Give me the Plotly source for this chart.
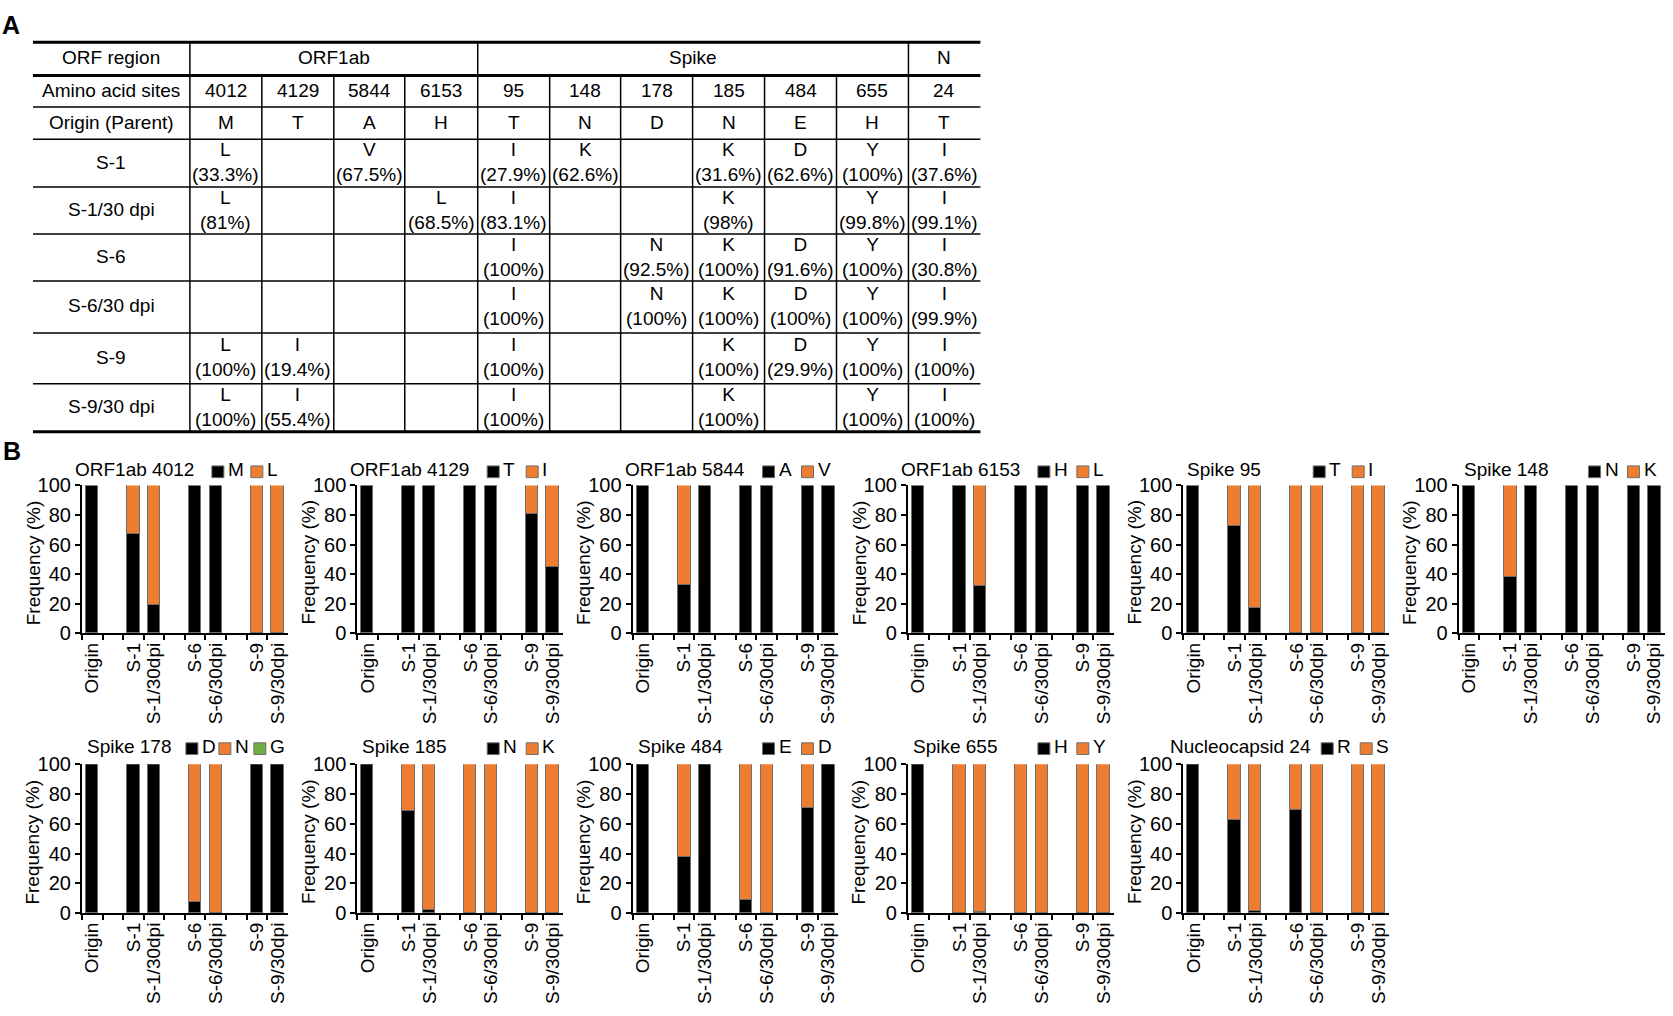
import plotly.graph_objects as go

W, H = 1673, 1016
FONT = "Liberation Sans, Arial, Helvetica, sans-serif"

# ---------------- Panel A: table data ----------------
orf_groups = ["ORF1ab", "Spike", "N"]
orf_group_span = [4, 6, 1]
aa_sites = ["4012", "4129", "5844", "6153", "95", "148", "178", "185", "484", "655", "24"]
origin_aa = ["M", "T", "A", "H", "T", "N", "D", "N", "E", "H", "T"]
sample_rows = ["S-1", "S-1/30 dpi", "S-6", "S-6/30 dpi", "S-9", "S-9/30 dpi"]
mut_aa = [
    ["L", "", "V", "", "I", "K", "", "K", "D", "Y", "I"],
    ["L", "", "", "L", "I", "", "", "K", "", "Y", "I"],
    ["", "", "", "", "I", "", "N", "K", "D", "Y", "I"],
    ["", "", "", "", "I", "", "N", "K", "D", "Y", "I"],
    ["L", "I", "", "", "I", "", "", "K", "D", "Y", "I"],
    ["L", "I", "", "", "I", "", "", "K", "", "Y", "I"],
]
mut_pct = [
    [33.3, None, 67.5, None, 27.9, 62.6, None, 31.6, 62.6, 100, 37.6],
    [81, None, None, 68.5, 83.1, None, None, 98, None, 99.8, 99.1],
    [None, None, None, None, 100, None, 92.5, 100, 91.6, 100, 30.8],
    [None, None, None, None, 100, None, 100, 100, 100, 100, 99.9],
    [100, 19.4, None, None, 100, None, None, 100, 29.9, 100, 100],
    [100, 55.4, None, None, 100, None, None, 100, None, 100, 100],
]

# ---------------- Panel B: bar chart data ----------------
bar_samples = ["Origin", "S-1", "S-1/30dpi", "S-6", "S-6/30dpi", "S-9", "S-9/30dpi"]
axis_slots = ["Origin", " ", "S-1", "S-1/30dpi", "  ", "S-6", "S-6/30dpi", "   ", "S-9", "S-9/30dpi"]
panel_titles = ["ORF1ab 4012", "ORF1ab 4129", "ORF1ab 5844", "ORF1ab 6153", "Spike 95", "Spike 148",
                "Spike 178", "Spike 185", "Spike 484", "Spike 655", "Nucleocapsid 24"]
panel_residues = [["M", "L"], ["T", "I"], ["A", "V"], ["H", "L"], ["T", "I"], ["N", "K"],
                  ["D", "N", "G"], ["N", "K"], ["E", "D"], ["H", "Y"], ["R", "S"]]
panel_values = [
    [[100, 66.7, 19, 100, 100, 0, 0], [0, 33.3, 81, 0, 0, 100, 100]],
    [[100, 100, 100, 100, 100, 80.6, 44.6], [0, 0, 0, 0, 0, 19.4, 55.4]],
    [[100, 32.5, 100, 100, 100, 100, 100], [0, 67.5, 0, 0, 0, 0, 0]],
    [[100, 100, 31.5, 100, 100, 100, 100], [0, 0, 68.5, 0, 0, 0, 0]],
    [[100, 72.1, 16.9, 0, 0, 0, 0], [0, 27.9, 83.1, 100, 100, 100, 100]],
    [[100, 37.4, 100, 100, 100, 100, 100], [0, 62.6, 0, 0, 0, 0, 0]],
    [[100, 100, 100, 7.5, 0, 100, 100], [0, 0, 0, 92.5, 100, 0, 0], [0, 0, 0, 0, 0, 0, 0]],
    [[100, 68.4, 2, 0, 0, 0, 0], [0, 31.6, 98, 100, 100, 100, 100]],
    [[100, 37.4, 100, 8.4, 0, 70.1, 100], [0, 62.6, 0, 91.6, 100, 29.9, 0]],
    [[100, 0, 0.2, 0, 0, 0, 0], [0, 100, 99.8, 100, 100, 100, 100]],
    [[100, 62.4, 0.9, 69.2, 0.1, 0, 0], [0, 37.6, 99.1, 30.8, 99.9, 100, 100]],
]
y_ticks = [0, 20, 40, 60, 80, 100]
residue_colors = ["#000000", "#ED7D31", "#70AD47"]

# ---------------- layout helpers ----------------
def fx(x):
    return x / W

def fy(y):
    return 1 - y / H

shapes = []
annotations = []

def text(x, y, s, size=19, bold=False, xanchor="center", angle=0):
    annotations.append(dict(
        x=fx(x), y=fy(y), xref="paper", yref="paper", text=("<b>%s</b>" % s) if bold else s,
        showarrow=False, xanchor=xanchor, yanchor="middle", textangle=angle,
        font=dict(family=FONT, size=size, color="black"), borderpad=0))

def hline(y, x0, x1, w):
    shapes.append(dict(type="line", xref="paper", yref="paper", x0=fx(x0), x1=fx(x1),
                       y0=fy(y), y1=fy(y), line=dict(color="black", width=w)))

def vline(x, y0, y1, w):
    shapes.append(dict(type="line", xref="paper", yref="paper", x0=fx(x), x1=fx(x),
                       y0=fy(y0), y1=fy(y1), line=dict(color="black", width=w)))

# ---------------- Panel A: table ----------------
tbl_left, tbl_right = 32, 980
col_edges = [32, 189, 261, 333, 404, 477, 549, 620, 692, 764, 836, 908, 980]
row_edges = [32, 66, 98, 131, 180, 228, 276, 329, 381, 430]
dy = -1  # visual centring correction for text

for i, y in enumerate(row_edges):
    thick = i in (0, 1, len(row_edges) - 1)
    hline(y, tbl_left, tbl_right, 3 if thick else 1.5)

group_bounds = [1]
for span in orf_group_span:
    group_bounds.append(group_bounds[-1] + span)
for ci in range(1, len(col_edges) - 1):
    top = row_edges[0] if ci in group_bounds else row_edges[1]
    vline(col_edges[ci], top, row_edges[-1], 1.5)

label_x = (col_edges[0] + col_edges[1]) / 2
text(label_x, (row_edges[0] + row_edges[1]) / 2 + dy, "ORF region")
text(label_x, (row_edges[1] + row_edges[2]) / 2 + dy, "Amino acid sites")
text(label_x, (row_edges[2] + row_edges[3]) / 2 + dy, "Origin (Parent)")

for gi, g in enumerate(orf_groups):
    x0 = col_edges[group_bounds[gi]]
    x1 = col_edges[group_bounds[gi + 1]]
    text((x0 + x1) / 2, (row_edges[0] + row_edges[1]) / 2 + dy, g)

for ci in range(len(aa_sites)):
    cx = (col_edges[ci + 1] + col_edges[ci + 2]) / 2
    text(cx, (row_edges[1] + row_edges[2]) / 2 + dy, aa_sites[ci])
    text(cx, (row_edges[2] + row_edges[3]) / 2 + dy, origin_aa[ci])

for ri, name in enumerate(sample_rows):
    top, bot = row_edges[ri + 3], row_edges[ri + 4]
    mid = (top + bot) / 2
    text(label_x, mid + dy, name)
    for ci in range(len(aa_sites)):
        cx = (col_edges[ci + 1] + col_edges[ci + 2]) / 2
        if mut_aa[ri][ci] and mut_pct[ri][ci] is not None:
            cell = "%s<br>(%s%%)" % (mut_aa[ri][ci], format(mut_pct[ri][ci], "g"))
            text(cx, mid + dy, cell)

text(0, 14, "A", size=25, bold=True, xanchor="left")
text(1, 450, "B", size=25, bold=True, xanchor="left")

# ---------------- Panel B: bar charts ----------------
col_x0 = 81
col_step = 275.5
plot_w = 206
row_top = [485, 770]
row_bot = [636, 922]
title_y = [469, 752]
title_dx = [-8, -8, -9, -8, 3, 4, 4, 4, 4, 4, -14]
legend_dx = {2: [130, 169], 3: [104, 137, 172]}
legend_shift = [0, 0, 0, 0, 0, 0, 0, 0, 0, 0, 8]
sq = 12

fig = go.Figure()
layout_axes = {}

for p, title in enumerate(panel_titles):
    r, c = divmod(p, 6)
    n = p + 1
    xa = "x" if n == 1 else "x%d" % n
    ya = "y" if n == 1 else "y%d" % n
    x0 = col_x0 + col_step * c
    x1 = x0 + plot_w
    for k, res in enumerate(panel_residues[p]):
        fig.add_trace(go.Bar(
            x=bar_samples, y=panel_values[p][k], name=res, xaxis=xa, yaxis=ya,
            width=0.6, marker=dict(color=residue_colors[k], line=dict(color="#6e6e6e", width=1)),
            showlegend=False))
    layout_axes["xaxis" if n == 1 else "xaxis%d" % n] = dict(
        domain=[fx(x0), fx(x1)], anchor=ya, type="category",
        categoryorder="array", categoryarray=axis_slots, range=[-0.5, 9.5],
        tickmode="linear", tick0=0, dtick=1,
        tickson="boundaries", ticks="outside", ticklen=5, tickwidth=2, tickcolor="black",
        showline=True, linecolor="black", linewidth=2, showgrid=False, zeroline=False,
        tickangle=-90, tickfont=dict(family=FONT, size=19, color="black"), fixedrange=True)
    layout_axes["yaxis" if n == 1 else "yaxis%d" % n] = dict(
        domain=[fy(row_bot[r]), fy(row_top[r])], anchor=xa, range=[0, 100],
        tickvals=y_ticks, ticks="outside", ticklen=5, tickwidth=2, tickcolor="black",
        showline=True, linecolor="black", linewidth=2, showgrid=False, zeroline=False,
        tickfont=dict(family=FONT, size=20, color="black"), fixedrange=True)
    # y-axis title
    text(x0 - 49, (row_top[r] + row_bot[r]) / 2 + 3, "Frequency (%)", angle=-90)
    # panel title
    text(x0 + title_dx[p], title_y[r], title, xanchor="left")
    # legend swatches
    offs = legend_dx[len(panel_residues[p])]
    for k, res in enumerate(panel_residues[p]):
        sx = x0 + offs[k] + legend_shift[p]
        cy = title_y[r] + 2
        shapes.append(dict(type="rect", xref="paper", yref="paper",
                           x0=fx(sx), x1=fx(sx + sq), y0=fy(cy + sq / 2), y1=fy(cy - sq / 2),
                           fillcolor=residue_colors[k], line=dict(color="#6e6e6e", width=1)))
        text(sx + sq + 3, title_y[r], res, xanchor="left")

fig.update_layout(
    width=W, height=H, margin=dict(l=0, r=0, t=0, b=0),
    paper_bgcolor="white", plot_bgcolor="white", barmode="stack", bargap=0,
    showlegend=False, shapes=shapes, annotations=annotations,
    font=dict(family=FONT, size=19, color="black"), **layout_axes)

fig.write_html("out.html", config={"displayModeBar": False},
               post_script="document.body.style.margin='0';document.body.style.overflow='hidden';")
